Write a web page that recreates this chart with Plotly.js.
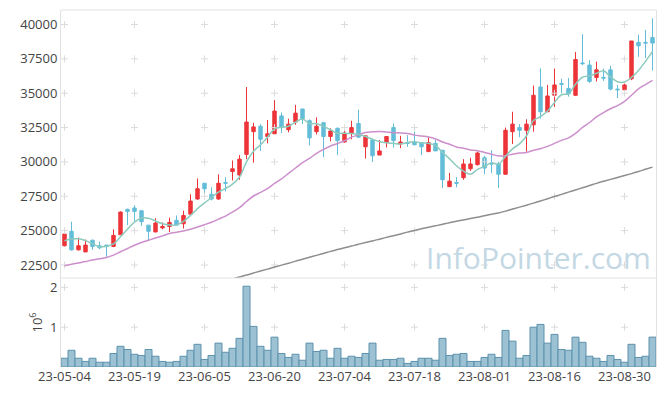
<!DOCTYPE html>
<html><head><meta charset="utf-8">
<script src="https://cdn.plot.ly/plotly-3.0.1.min.js"></script>
<style>html,body{margin:0;padding:0;background:#fff}#chart{width:665px;height:396px}</style>
</head><body><div id="chart"></div>
<script>
const dates = ['23-05-04','23-05-08','23-05-09','23-05-10','23-05-11','23-05-12','23-05-15','23-05-16','23-05-17','23-05-18',
'23-05-19','23-05-22','23-05-23','23-05-24','23-05-25','23-05-26','23-05-30','23-05-31','23-06-01','23-06-02',
'23-06-05','23-06-07','23-06-08','23-06-09','23-06-12','23-06-13','23-06-14','23-06-15','23-06-16','23-06-19',
'23-06-20','23-06-21','23-06-22','23-06-23','23-06-26','23-06-27','23-06-28','23-06-29','23-06-30','23-07-03',
'23-07-04','23-07-05','23-07-06','23-07-07','23-07-10','23-07-11','23-07-12','23-07-13','23-07-14','23-07-17',
'23-07-18','23-07-19','23-07-20','23-07-21','23-07-24','23-07-25','23-07-26','23-07-27','23-07-28','23-07-31',
'23-08-01','23-08-02','23-08-03','23-08-04','23-08-07','23-08-08','23-08-09','23-08-10','23-08-11','23-08-14',
'23-08-16','23-08-17','23-08-18','23-08-21','23-08-22','23-08-23','23-08-24','23-08-25','23-08-28','23-08-29',
'23-08-30','23-08-31','23-09-01','23-09-04','23-09-05'];

const openP = [23900,24950,23600,23450,24300,23900,23950,23850,24700,26550,
26650,26450,25400,24900,25200,25300,25750,25500,26200,27300,
28450,27650,27300,28500,29300,29050,30550,32200,32600,31850,
32050,33350,32350,32900,33850,33000,32200,32850,31850,32450,
31450,32100,32800,31100,31600,30500,31400,32500,31300,31400,
31450,31400,30750,31350,30850,28200,28500,28850,29500,29800,
30300,29900,29850,29100,32200,32500,32300,32700,35450,33650,
34850,35700,35350,34850,37200,37050,36150,36150,36700,35300,
35250,36050,38700,38700,39050];
const highP = [25050,25650,24500,24350,24350,24200,23950,25100,26400,26600,
26850,26450,25400,25900,25600,25950,26100,26450,27650,28800,
28450,28150,29100,28900,30100,30500,35450,32850,32750,33050,
34500,33600,33150,34150,33850,33100,33250,32900,32450,32500,
32350,33000,33800,31900,31700,31600,31850,32800,31900,31950,
32200,31400,31800,31600,30850,29200,28900,30200,30300,30750,
30450,30850,30000,32500,33650,32750,33100,35550,36800,35600,
36800,36050,36100,38000,39300,37400,37300,36800,37000,35600,
35700,38800,39250,39600,40450];
const lowP = [23850,23550,23550,23450,23600,23650,23100,23800,24700,25400,
25700,25350,24300,24900,25100,24900,25400,25150,26200,27250,
27350,27200,27250,27850,28650,28700,30200,29950,30800,31350,
32050,32100,32150,32700,32750,31200,32000,30350,31500,30500,
31400,31650,31800,30250,30000,30500,31050,31050,31000,31100,
31200,30500,30750,30800,28100,28200,28150,28700,29350,29750,
29100,29200,28100,29100,31300,31800,30750,32200,33150,33650,
34000,35000,34750,34800,37050,35750,35850,35900,35200,34650,
35150,35950,37650,37550,36650];
const closeP = [24750,23600,23900,23950,23850,23750,23850,24650,26350,26400,
26400,25650,24950,25550,25300,25600,25400,26100,27150,28050,
28050,27300,28450,28450,29500,30200,32900,32550,31650,32050,
33700,32500,32750,33550,33150,31750,32600,31850,32250,31550,
32100,32500,31800,31900,30450,30800,31850,31550,31450,31350,
31250,31100,31400,30800,28700,28600,28450,29850,29850,30650,
29550,29850,29100,32300,32750,32300,32750,34850,33650,34800,
35600,35650,34950,37450,37150,35850,36700,36100,35300,35250,
35600,38800,38450,38650,38650];

const ma5 = [24270,24390,24410,24270,24050,23830,23860,24030,24550,25100,
25620,25920,25900,25700,25500,25410,25420,25680,26100,26600,
27020,27400,27800,28070,28390,28900,30000,30780,31250,31800,
32400,32520,32600,32900,33120,32800,32780,32590,32340,32080,
32090,32060,32000,31850,31650,31480,31390,31350,31300,31410,
31470,31380,31350,31200,30690,30230,29720,29330,29100,29460,
29670,29940,29840,30420,30950,31310,31890,33010,33290,33700,
34330,34890,34960,35650,36160,36260,36450,36640,36190,35840,
35810,36150,36660,37320,38050];
const ma20 = [22450,22550,22650,22750,22860,22950,23050,23220,23460,23700,
23940,24140,24300,24460,24620,24790,24890,24980,25100,25260,
25430,25610,25840,26060,26350,26670,27120,27520,27780,28060,
28430,28770,29160,29560,29950,30260,30620,30910,31160,31340,
31540,31800,31970,32140,32190,32220,32170,32120,32110,32070,
31950,31880,31810,31670,31450,31290,31090,30990,30870,30820,
30690,30560,30430,30450,30560,30640,30680,30850,30960,31130,
31350,31570,31750,32080,32510,32870,33280,33590,33870,34100,
34400,34850,35310,35630,35930];
const ma60 = [null,null,null,null,null,null,null,null,null,null,
null,null,null,null,null,null,null,null,null,null,
null,null,null,21330,21480,21630,21770,21920,22060,22200,
22350,22490,22630,22780,22920,23060,23200,23340,23490,23620,
23750,23880,24010,24130,24250,24380,24510,24630,24760,24890,
25010,25130,25240,25350,25460,25580,25680,25780,25880,25980,
26090,26190,26280,26420,26570,26710,26850,27000,27160,27320,
27480,27640,27800,27960,28120,28280,28440,28590,28730,28870,
29010,29150,29300,29460,29620];

const volume = [220000,420000,220000,140000,220000,120000,120000,340000,520000,440000,
320000,290000,440000,270000,140000,120000,140000,270000,420000,570000,
190000,290000,600000,370000,470000,720000,2030000,1020000,520000,420000,
750000,340000,240000,320000,170000,600000,390000,420000,220000,470000,
220000,270000,240000,340000,600000,170000,190000,190000,220000,90000,
140000,220000,220000,170000,720000,290000,320000,340000,140000,140000,
240000,320000,240000,920000,650000,220000,290000,1000000,1070000,600000,
820000,440000,420000,750000,620000,270000,220000,140000,290000,190000,
120000,570000,240000,270000,750000];

const priceTicks = [22500,25000,27500,30000,32500,35000,37500,40000];
const priceTickText = ['22500','25000','27500','30000','32500','35000','37500','40000'];
const volTicks = [1000000,2000000];
const volTickText = ['1','2'];
const xTickDates = dates.filter((d,i)=>i%10===0);

const gx=[], gy=[], vgx=[], vgy=[];
xTickDates.forEach(d=>{
  priceTicks.forEach(v=>{gx.push(d);gy.push(v);});
  volTicks.forEach(v=>{vgx.push(d);vgy.push(v);});
});

const crossMarker = {symbol:'cross-thin',size:5,color:'#dcdcdc',line:{color:'#dcdcdc',width:1}};
const traces = [
  {type:'candlestick',x:dates,open:openP,high:highP,low:lowP,close:closeP,xaxis:'x',yaxis:'y',
   increasing:{line:{color:'#ec3439',width:1},fillcolor:'#ec3439'},
   decreasing:{line:{color:'#63bdd8',width:1},fillcolor:'#63bdd8'},
   whiskerwidth:0,showlegend:false,name:'price'},
  {type:'bar',x:dates,y:volume,xaxis:'x',yaxis:'y2',marker:{color:'#9bc1d2',line:{color:'#5d91ad',width:1}},showlegend:false},
  {type:'scatter',mode:'markers',x:gx,y:gy,xaxis:'x',yaxis:'y',marker:crossMarker,hoverinfo:'skip',showlegend:false},
  {type:'scatter',mode:'markers',x:vgx,y:vgy,xaxis:'x',yaxis:'y2',marker:crossMarker,hoverinfo:'skip',showlegend:false},
  {type:'scatter',mode:'lines',x:dates,y:ma60,xaxis:'x',yaxis:'y',line:{color:'#8e8e8e',width:1.5,shape:'spline'},showlegend:false,connectgaps:false},
  {type:'scatter',mode:'lines',x:dates,y:ma20,xaxis:'x',yaxis:'y',line:{color:'#cc8fcc',width:1.5,shape:'spline'},showlegend:false},
  {type:'scatter',mode:'lines',x:dates,y:ma5,xaxis:'x',yaxis:'y',line:{color:'#8ccbbe',width:1.5,shape:'spline'},showlegend:false}
];

const split = 0.2493;
const layout = {
  width:665,height:396,
  margin:{l:61,r:9,t:10,b:29},
  paper_bgcolor:'#ffffff',plot_bgcolor:'#ffffff',
  font:{family:'"Open Sans", sans-serif',size:13,color:'#444'},
  showlegend:false,
  bargap:0,
  xaxis:{type:'category',categoryorder:'array',categoryarray:dates,range:[-0.5,84.5],anchor:'y2',
    tickmode:'array',tickvals:xTickDates,tickangle:0,
    showgrid:false,zeroline:false,showline:false,ticks:'',rangeslider:{visible:false},
    tickfont:{size:13,color:'#444'}},
  yaxis:{domain:[split,1],range:[21553,41055],tickmode:'array',tickvals:priceTicks,ticktext:priceTickText,
    showgrid:false,zeroline:false,showline:true,mirror:true,linecolor:'#e2e2e2',linewidth:1,ticks:'',
    tickfont:{size:13,color:'#444'},anchor:'x'},
  yaxis2:{domain:[0,split],range:[0,2236000],tickmode:'array',tickvals:volTicks,ticktext:volTickText,
    showgrid:false,zeroline:false,showline:true,mirror:true,linecolor:'#e2e2e2',linewidth:1,ticks:'',
    tickfont:{size:13,color:'#444'},anchor:'x',
    title:{text:'10<sup>6</sup>',font:{size:13,color:'#444'},standoff:4}},
  shapes:[
    {type:'line',xref:'paper',yref:'paper',x0:0,x1:1,y0:1,y1:1,line:{color:'#e2e2e2',width:1}},
    {type:'line',xref:'paper',yref:'paper',x0:0,x1:1,y0:split,y1:split,line:{color:'#e2e2e2',width:1}}
  ],
  annotations:[
    {text:'InfoPointer.com',xref:'paper',yref:'paper',x:0.803,y:0.308,xanchor:'center',yanchor:'middle',
     showarrow:false,font:{family:'"Open Sans", sans-serif',size:30,color:'#c3d8e4'}}
  ]
};

Plotly.newPlot('chart',traces,layout,{displayModeBar:false,staticPlot:true});
</script>
</body></html>
